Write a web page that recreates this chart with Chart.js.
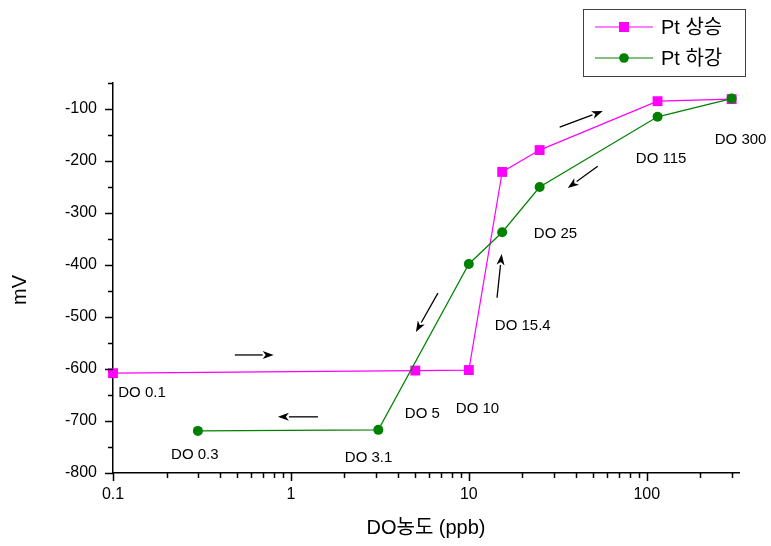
<!DOCTYPE html>
<html>
<head>
<meta charset="utf-8">
<script src="https://cdn.jsdelivr.net/npm/chart.js@4.4.0/dist/chart.umd.min.js"></script>
<style>
  body { margin: 0; background: #fff; }
  #wrap { width: 771px; height: 546px; }
</style>
</head>
<body>
<div id="wrap"><canvas id="chart" width="771" height="546"></canvas></div>
<script>
// DO concentration (ppb) and potential (mV)
const upDO = [0.1, 5, 10, 15.4, 25, 115, 300];
const upMV = [-608, -603, -602, -221, -179, -85, -81];
const downDO = [300, 115, 25, 15.4, 10, 3.1, 0.3];
const downMV = [-80, -115, -250, -337, -398, -717, -719];

const seriesNames = ['Pt 상승', 'Pt 하강'];
const xTickLabels = [0.1, 1, 10, 100];

// point labels (text, x value, y value) - left aligned
const pointLabels = [
    ['DO 0.1', 0.107, -646],
    ['DO 0.3', 0.212, -765],
    ['DO 3.1', 2.01, -771],
    ['DO 5', 4.37, -687],
    ['DO 10', 8.45, -677],
    ['DO 15.4', 14.0, -517],
    ['DO 25', 23.2, -340],
    ['DO 115', 86.8, -196],
    ['DO 300', 241, -160]
];

// direction arrows [x1, y1, x2, y2]
const arrows = [
    [0.484, -573, 0.80, -573],
    [1.42, -692, 0.845, -692],
    [6.70, -454, 5.04, -529],
    [14.4, -463, 15.3, -379],
    [53, -210, 36, -252],
    [32.4, -135, 56.6, -104]
];

const FONT = '"Liberation Sans", Arial, "Noto Sans CJK KR", sans-serif';

const extras = {
    id: 'extras',
    afterDraw(chart) {
        const ctx = chart.ctx;
        const xs = chart.scales.x, ys = chart.scales.y;
        const area = chart.chartArea;
        ctx.save();

        // axis ticks
        ctx.strokeStyle = '#000';
        ctx.lineWidth = 1.5;
        ctx.beginPath();
        for (let e = -1; e <= 2; e++) {
            for (let m = 1; m <= 9; m++) {
                const v = m * Math.pow(10, e);
                if (v > xs.max * 1.0001) break;
                const px = Math.round(xs.getPixelForValue(v)) + 0.5;
                const len = m === 1 ? 8 : 5;
                ctx.moveTo(px, area.bottom);
                ctx.lineTo(px, area.bottom + len);
            }
        }
        for (let v = -800; v <= -50; v += 50) {
            const py = Math.round(ys.getPixelForValue(v)) + 0.5;
            const len = v % 100 === 0 ? 8 : 5;
            ctx.moveTo(area.left, py);
            ctx.lineTo(area.left - len, py);
        }
        ctx.stroke();

        // point labels
        ctx.fillStyle = '#000';
        ctx.font = '15px ' + FONT;
        ctx.textAlign = 'left';
        ctx.textBaseline = 'middle';
        pointLabels.forEach(([t, x, y]) => {
            ctx.fillText(t, xs.getPixelForValue(x), ys.getPixelForValue(y));
        });

        // arrows
        ctx.lineWidth = 1.3;
        arrows.forEach(([x1, y1, x2, y2]) => {
            const ax = xs.getPixelForValue(x1), ay = ys.getPixelForValue(y1);
            const bx = xs.getPixelForValue(x2), by = ys.getPixelForValue(y2);
            const ang = Math.atan2(by - ay, bx - ax);
            const hl = 11, hw = 4;
            const cx = bx - hl * Math.cos(ang), cy = by - hl * Math.sin(ang);
            ctx.beginPath();
            ctx.moveTo(ax, ay);
            ctx.lineTo(cx, cy);
            ctx.stroke();
            ctx.beginPath();
            ctx.moveTo(bx, by);
            ctx.lineTo(cx + hw * Math.sin(ang), cy - hw * Math.cos(ang));
            ctx.lineTo(cx + 3 * Math.cos(ang), cy + 3 * Math.sin(ang));
            ctx.lineTo(cx - hw * Math.sin(ang), cy + hw * Math.cos(ang));
            ctx.closePath();
            ctx.fill();
        });

        // y title
        ctx.font = '20px ' + FONT;
        ctx.textAlign = 'center';
        ctx.translate(20, 290);
        ctx.rotate(-Math.PI / 2);
        ctx.fillText('mV', 0, 0);
        ctx.restore();

        // legend
        ctx.save();
        ctx.strokeStyle = '#404040';
        ctx.lineWidth = 1;
        ctx.strokeRect(583.5, 9.5, 162, 67);
        const ds = chart.data.datasets;
        [27, 58].forEach((ly, i) => {
            const d = ds[i];
            ctx.strokeStyle = d.borderColor;
            ctx.beginPath();
            ctx.moveTo(595, ly);
            ctx.lineTo(653, ly);
            ctx.stroke();
            ctx.fillStyle = d.pointBackgroundColor;
            if (d.pointStyle === 'rect') {
                ctx.fillRect(619, ly - 5, 10, 10);
            } else {
                ctx.beginPath();
                ctx.arc(624, ly, 4.8, 0, Math.PI * 2);
                ctx.fill();
            }
            ctx.fillStyle = '#000';
            ctx.font = '20px ' + FONT;
            ctx.textAlign = 'left';
            ctx.textBaseline = 'middle';
            ctx.fillText(d.label, 661, ly + 1);
        });
        ctx.restore();
    }
};

new Chart(document.getElementById('chart'), {
    type: 'line',
    data: {
        datasets: [
            {
                label: seriesNames[0],
                data: upDO.map((x, i) => ({ x: x, y: upMV[i] })),
                borderColor: '#ff00ff',
                backgroundColor: '#ff00ff',
                pointBackgroundColor: '#ff00ff',
                pointBorderWidth: 0,
                borderWidth: 1.2,
                pointStyle: 'rect',
                pointRadius: 7,
                clip: false,
                order: 2
            },
            {
                label: seriesNames[1],
                data: downDO.map((x, i) => ({ x: x, y: downMV[i] })),
                borderColor: '#008000',
                backgroundColor: '#008000',
                pointBackgroundColor: '#008000',
                pointBorderWidth: 0,
                borderWidth: 1.2,
                pointStyle: 'circle',
                pointRadius: 5,
                clip: false,
                order: 1
            }
        ]
    },
    options: {
        responsive: false,
        animation: false,
        layout: { padding: { left: 0, top: 83, right: 32, bottom: 0 } },
        plugins: {
            legend: { display: false },
            tooltip: { enabled: false }
        },
        scales: {
            x: {
                type: 'logarithmic',
                min: 0.1,
                max: 330,
                border: { display: true, color: '#000', width: 1.5 },
                grid: { display: true, drawOnChartArea: false, drawTicks: true, tickLength: 8, color: 'transparent' },
                ticks: {
                    autoSkip: false,
                    maxRotation: 0,
                    padding: 4,
                    color: '#000',
                    font: { size: 16, family: FONT },
                    callback: function (v) {
                        const hit = xTickLabels.find(t => Math.abs(t - v) < t * 1e-6);
                        return hit !== undefined ? String(hit) : '';
                    }
                },
                title: {
                    display: true,
                    text: 'DO농도 (ppb)',
                    color: '#000',
                    font: { size: 20, family: FONT },
                    padding: { top: 0, bottom: 6 }
                },
                afterFit(scale) { scale.height = 73; }
            },
            y: {
                min: -800,
                max: -50,
                border: { display: true, color: '#000', width: 1.5 },
                grid: { display: true, drawOnChartArea: false, drawTicks: true, tickLength: 8, color: 'transparent' },
                ticks: {
                    stepSize: 50,
                    padding: 8,
                    color: '#000',
                    font: { size: 16, family: FONT },
                    callback: v => (v % 100 === 0 ? String(v) : '')
                },
                afterFit(scale) { scale.width = 113; }
            }
        }
    },
    plugins: [extras]
});
</script>
</body>
</html>
